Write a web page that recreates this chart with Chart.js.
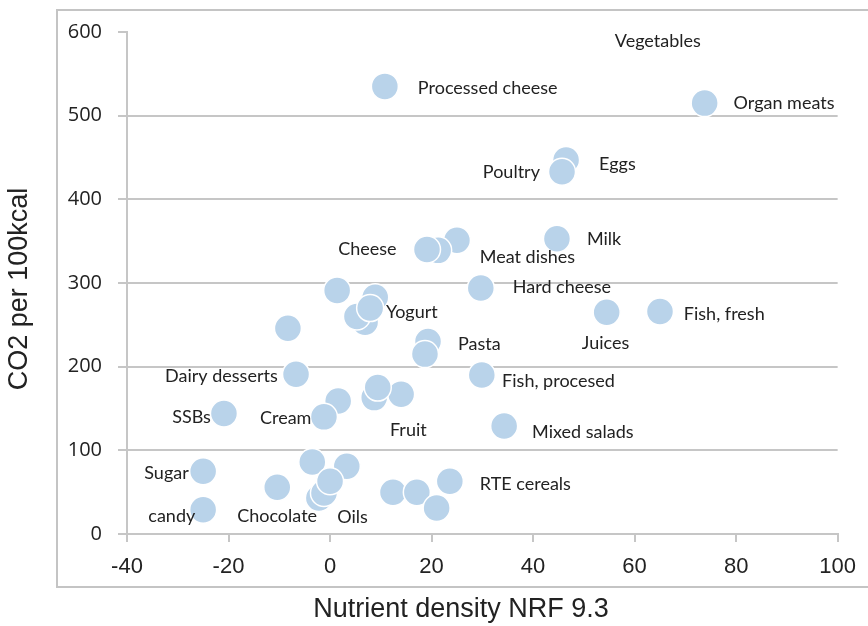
<!DOCTYPE html>
<html>
<head>
<meta charset="utf-8">
<script src="https://cdn.jsdelivr.net/npm/chart.js@4.4.1/dist/chart.umd.min.js"></script>
<style>
  html, body { margin: 0; padding: 0; background: #fff; overflow: hidden; }
  #wrap { width: 868px; height: 626px; }
  canvas { display: block; }
</style>
</head>
<body>
<div id="wrap"><canvas id="chart" width="868" height="626"></canvas></div>
<script>
// food groups: nutrient density (NRF 9.3) vs CO2 per 100 kcal
const nrfValues = [
    10.8, 73.8, 46.5, 45.7, 44.7, 25.0, 21.3, 19.1, 29.7, 54.5, 65.0,
    1.4, 6.9, 5.3, 8.9, 7.9, -8.3, 19.3, 18.7, -6.7, 29.9, -20.9,
    1.6, -1.2, 14.0, 8.7, 9.4, 34.3, -25.0, -25.0, -10.4,
    -3.5, 3.3, -2.2, -1.2, 0.0, 12.4, 17.1, 21.0, 23.6
];
const co2Values = [
    535, 515, 447, 433, 353, 351, 339, 340, 294, 265, 266,
    291, 253, 260, 283, 270, 246, 230, 215, 191, 190, 144,
    159, 140, 167, 163, 175, 129, 75, 29, 56,
    86, 81, 43, 49, 63, 50, 50, 31, 63
];

// text labels, anchored (left edge, middle) at data coordinates
const labelTexts = [
    'Vegetables', 'Processed cheese', 'Organ meats', 'Eggs', 'Poultry', 'Milk',
    'Cheese', 'Meat dishes', 'Hard cheese', 'Fish, fresh', 'Juices', 'Yogurt',
    'Pasta', 'Dairy desserts', 'Fish, procesed', 'SSBs', 'Cream', 'Fruit',
    'Mixed salads', 'Sugar', 'RTE cereals', 'candy', 'Chocolate', 'Oils'
];
const labelX = [
    56.1, 17.3, 79.5, 53.0, 30.1, 50.6,
    1.6, 29.5, 36.0, 69.7, 49.6, 11.0,
    25.2, -32.5, 33.9, -31.1, -13.8, 11.8,
    39.8, -36.6, 29.5, -35.8, -18.3, 1.4
];
const labelY = [
    589.5, 533.4, 515.5, 441.5, 432, 352,
    340, 330.5, 294.7, 262.5, 228, 265,
    226.7, 188.5, 182.6, 139.6, 138.4, 124.1,
    121.7, 72.8, 59.7, 21.5, 21.5, 20.3
];

const xTitle = 'Nutrient density NRF 9.3';
const yTitle = 'CO2 per 100kcal';

const GRID = '#c6c6c6';
const TEXT = '#222222';

const decorations = {
    id: 'decorations',
    beforeDraw(chart) {
        // outer frame (open on the right, like the source image)
        const ctx = chart.ctx;
        ctx.save();
        ctx.strokeStyle = '#c4c4c4';
        ctx.lineWidth = 2;
        ctx.beginPath();
        ctx.moveTo(chart.width, 10);
        ctx.lineTo(57, 10);
        ctx.lineTo(57, 587);
        ctx.lineTo(chart.width, 587);
        ctx.stroke();
        ctx.restore();
    },
    afterDatasetsDraw(chart) {
        const ctx = chart.ctx;
        const xs = chart.scales.x;
        const ys = chart.scales.y;
        ctx.save();
        ctx.fillStyle = TEXT;
        ctx.font = '18px Lato';
        ctx.textAlign = 'left';
        ctx.textBaseline = 'middle';
        labelTexts.forEach((t, i) => {
            ctx.fillText(t, xs.getPixelForValue(labelX[i]), ys.getPixelForValue(labelY[i]));
        });
        ctx.restore();
    },
    afterDraw(chart) {
        const ctx = chart.ctx;
        const area = chart.chartArea;
        ctx.save();
        ctx.fillStyle = TEXT;
        ctx.font = '27px "Liberation Sans", Arial';
        ctx.textAlign = 'center';
        ctx.textBaseline = 'middle';
        ctx.fillText(xTitle, 461, 610);
        ctx.translate(20, (area.top + area.bottom) / 2 + 6);
        ctx.rotate(-Math.PI / 2);
        ctx.fillText(yTitle, 0, 0);
        ctx.restore();
    }
};

const points = nrfValues.map((x, i) => ({ x, y: co2Values[i] }));

new Chart(document.getElementById('chart'), {
    type: 'scatter',
    data: {
        datasets: [{
            data: points,
            backgroundColor: '#b9d3ea',
            borderColor: '#ffffff',
            borderWidth: 1.5,
            pointRadius: 13.5,
        }],
    },
    plugins: [decorations],
    options: {
        responsive: false,
        animation: false,
        events: [],
        layout: { padding: { top: 32, right: 30, left: 0, bottom: 0 } },
        plugins: { legend: { display: false }, tooltip: { enabled: false } },
        scales: {
            x: {
                type: 'linear',
                min: -40,
                max: 100,
                afterFit(scale) { scale.height = 92; },
                border: { color: GRID, width: 2 },
                grid: { drawOnChartArea: false, tickLength: 8, tickColor: GRID, lineWidth: 2 },
                ticks: {
                    stepSize: 20,
                    padding: 12,
                    color: TEXT,
                    font: { family: '"Liberation Sans", Arial', size: 22 },
                },
            },
            y: {
                min: 0,
                max: 600,
                afterFit(scale) { scale.width = 127; },
                border: { color: GRID, width: 2 },
                grid: {
                    color: (c) => (c.tick && c.tick.value === 600 ? 'rgba(0,0,0,0)' : GRID),
                    tickColor: GRID,
                    tickLength: 9,
                    lineWidth: 2,
                },
                ticks: {
                    stepSize: 100,
                    padding: 16,
                    color: TEXT,
                    font: { family: '"Open Sans"', size: 20 },
                },
            },
        },
    },
});
</script>
</body>
</html>
